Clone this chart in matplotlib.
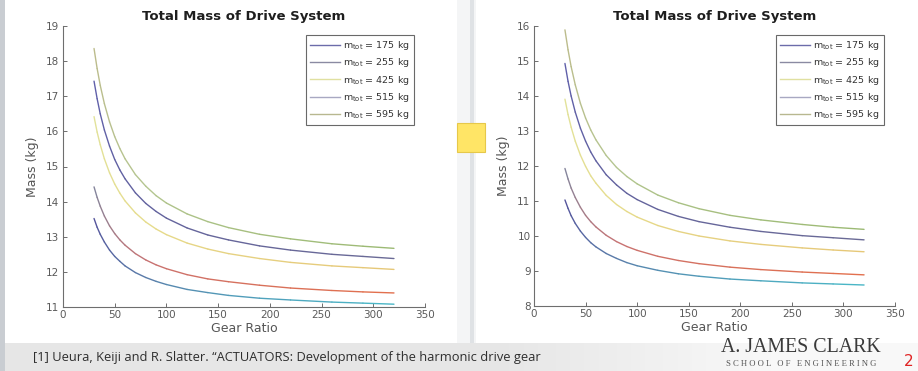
import numpy as np
import matplotlib
matplotlib.use('Agg')
import matplotlib.pyplot as plt
from matplotlib.collections import LineCollection
from matplotlib.lines import Line2D
from matplotlib.patches import Rectangle
from matplotlib.colors import to_rgb

# ---------------- data ----------------
gear_ratio = [30, 33, 36, 40, 45, 50, 55, 60, 70, 80, 90, 100, 120, 140, 160, 190, 220, 260, 290, 320]
mass_labels = ['175', '255', '425', '515', '595']

left_175 = [13.52, 13.27, 13.07, 12.85, 12.62, 12.44, 12.30, 12.17, 11.98, 11.84, 11.73, 11.64, 11.50, 11.41, 11.33, 11.25, 11.20, 11.14, 11.11, 11.08]
left_255 = [14.42, 14.12, 13.87, 13.59, 13.31, 13.09, 12.91, 12.76, 12.52, 12.34, 12.20, 12.09, 11.92, 11.80, 11.72, 11.62, 11.54, 11.47, 11.43, 11.40]
left_425 = [16.42, 15.98, 15.62, 15.22, 14.82, 14.50, 14.24, 14.02, 13.68, 13.42, 13.22, 13.06, 12.82, 12.65, 12.52, 12.38, 12.27, 12.17, 12.12, 12.07]
left_515 = [17.43, 16.93, 16.50, 16.04, 15.58, 15.20, 14.90, 14.65, 14.25, 13.95, 13.72, 13.53, 13.25, 13.05, 12.91, 12.74, 12.62, 12.50, 12.44, 12.38]
left_595 = [18.36, 17.79, 17.31, 16.79, 16.27, 15.85, 15.51, 15.22, 14.77, 14.44, 14.17, 13.96, 13.65, 13.43, 13.26, 13.07, 12.94, 12.80, 12.73, 12.67]

right_175 = [11.03, 10.79, 10.58, 10.36, 10.14, 9.96, 9.81, 9.69, 9.50, 9.36, 9.24, 9.15, 9.02, 8.92, 8.85, 8.77, 8.72, 8.66, 8.63, 8.60]
right_255 = [11.93, 11.63, 11.37, 11.10, 10.82, 10.59, 10.41, 10.26, 10.02, 9.84, 9.70, 9.59, 9.42, 9.30, 9.21, 9.11, 9.04, 8.97, 8.93, 8.89]
right_425 = [13.91, 13.47, 13.11, 12.71, 12.31, 11.99, 11.72, 11.51, 11.16, 10.90, 10.70, 10.54, 10.30, 10.13, 10.00, 9.86, 9.76, 9.66, 9.60, 9.55]
right_515 = [14.93, 14.42, 14.00, 13.54, 13.08, 12.71, 12.40, 12.15, 11.75, 11.46, 11.22, 11.04, 10.76, 10.56, 10.41, 10.25, 10.13, 10.01, 9.95, 9.89]
right_595 = [15.89, 15.32, 14.84, 14.32, 13.79, 13.37, 13.03, 12.75, 12.30, 11.96, 11.70, 11.49, 11.17, 10.95, 10.78, 10.59, 10.46, 10.33, 10.25, 10.19]

x_ticks = [0, 50, 100, 150, 200, 250, 300, 350]
left_y_ticks = [11, 12, 13, 14, 15, 16, 17, 18, 19]
right_y_ticks = [8, 9, 10, 11, 12, 13, 14, 15, 16]

# ---------------- styling ----------------
curve_stops = [
    ['#55559c', '#5a7eaa', '#4ab6c6'],   # 175
    ['#85859c', '#c87272', '#e2704e'],   # 255
    ['#e2e29a', '#e6dc8c', '#e6c878'],   # 425
    ['#6060aa', '#62629e', '#6a6a96'],   # 515
    ['#bcbc8c', '#b4c690', '#9cba74'],   # 595
]
legend_colors = ['#6c6caa', '#8a8aa2', '#e0e0a0', '#a8a8c2', '#b8b890']

W, H = 918, 371
fig = plt.figure(figsize=(W / 100, H / 100), dpi=100)
fig.patch.set_facecolor('white')

def px_rect(x0, y0, x1, y1, color, z=0, ec='none', lw=0):
    fig.patches.append(Rectangle((x0 / W, 1 - y1 / H), (x1 - x0) / W, (y1 - y0) / H,
                                 transform=fig.transFigure, facecolor=color,
                                 edgecolor=ec, linewidth=lw, zorder=z))

# background pieces
px_rect(0, 0, 5, 371, '#c9cdd2', z=0)
px_rect(457, 0, 476, 343, '#f4f5f6', z=0)
px_rect(470, 0, 474, 343, '#dfe2e5', z=0)
# footer strip with gradient
bg = fig.add_axes([0, 0, 1, 28 / H], zorder=0)
grad = np.linspace(0, 1, 256)
gcol = np.ones((1, 256, 3))
g = 0.905 + 0.07 * np.clip((grad - 0.55) / 0.3, 0, 1)
gcol[0, :, 0] = g
gcol[0, :, 1] = g
gcol[0, :, 2] = g
bg.imshow(gcol, aspect='auto', extent=[0, 1, 0, 1])
bg.set_axis_off()


def blend(stops, n):
    stops = [np.array(to_rgb(c)) for c in stops]
    t = np.linspace(0, 1, n)
    out = []
    for v in t:
        if v <= 0.5:
            f = v / 0.5
            out.append(stops[0] * (1 - f) + stops[1] * f)
        else:
            f = (v - 0.5) / 0.5
            out.append(stops[1] * (1 - f) + stops[2] * f)
    return out


def draw_panel(rect, series, yticks):
    ax = fig.add_axes(rect, zorder=2)
    ax.set_facecolor('white')
    x = np.array(gear_ratio, dtype=float)
    for vals, stops in zip(series, curve_stops):
        y = np.array(vals, dtype=float)
        pts = np.array([x, y]).T.reshape(-1, 1, 2)
        segs = np.concatenate([pts[:-1], pts[1:]], axis=1)
        lc = LineCollection(segs, colors=blend(stops, len(segs)), linewidths=1.0,
                            capstyle='round', joinstyle='round')
        ax.add_collection(lc)
    ax.set_xlim(x_ticks[0], x_ticks[-1])
    ax.set_ylim(yticks[0], yticks[-1])
    ax.set_xticks(x_ticks)
    ax.set_yticks(yticks)
    for s in ['top', 'right']:
        ax.spines[s].set_visible(False)
    for s in ['left', 'bottom']:
        ax.spines[s].set_color('#6e6e6e')
        ax.spines[s].set_linewidth(0.8)
    ax.tick_params(direction='in', length=3, width=0.7, colors='#6e6e6e',
                   labelcolor='#5a5a5a', labelsize=7.5, pad=2.5)
    ax.set_title('Total Mass of Drive System', fontsize=9.5, fontweight='bold',
                 color='#1e1e1e', pad=4.5)
    ax.set_xlabel('Gear Ratio', fontsize=9, color='#555555', labelpad=1)
    ax.set_ylabel('Mass (kg)', fontsize=9, color='#555555', labelpad=5)
    handles = [Line2D([0], [0], color=c, lw=1.0) for c in legend_colors]
    texts = [r'm$_{\rm tot}$ = %s kg' % m for m in mass_labels]
    leg = ax.legend(handles, texts, loc='upper right', bbox_to_anchor=(0.97, 0.968),
                    fontsize=6.8, frameon=True, fancybox=False, handlelength=3.2,
                    handletextpad=0.3, borderpad=0.45, labelspacing=0.45,
                    borderaxespad=0.0)
    leg.get_frame().set_edgecolor('#444444')
    leg.get_frame().set_linewidth(0.8)
    for t in leg.get_texts():
        t.set_color('#333333')
    return ax

draw_panel([63 / W, 1 - 307 / H, 362 / W, 281 / H],
           [left_175, left_255, left_425, left_515, left_595], left_y_ticks)
draw_panel([534 / W, 1 - 306 / H, 361 / W, 280 / H],
           [right_175, right_255, right_425, right_515, right_595], right_y_ticks)

# yellow square
px_rect(457, 123, 485, 152, '#ffe566', z=5, ec='#e6c84a', lw=0.8)

# footer texts
fig.text(33 / W, 1 - 358 / H, '[1] Ueura, Keiji and R. Slatter. \u201cACTUATORS: Development of the harmonic drive gear',
         fontsize=9.3, family=['Open Sans', 'DejaVu Sans'], color='#2e2e2e', va='center', ha='left', zorder=6)
fig.text(33 / W, 1 - 378 / H, 'for space applications.\u201d (2004)',
         fontsize=9.3, family=['Open Sans', 'DejaVu Sans'], color='#2e2e2e', va='center', ha='left', zorder=6)
fig.text(801 / W, 1 - 348 / H, 'A. JAMES CLARK', fontsize=14.3, family=['Liberation Serif', 'DejaVu Serif'],
         color='#3a3a3a', va='center', ha='center', zorder=6)
fig.text(801 / W, 1 - 364 / H, 'S C H O O L   O F   E N G I N E E R I N G', fontsize=6.2,
         family=['Liberation Serif', 'DejaVu Serif'],
         color='#555555', va='center', ha='center', zorder=6)
fig.text(904 / W, 1 - 362 / H, '2', fontsize=11, color='#e02424', va='center', ha='left', zorder=6)

fig.savefig('out.png', dpi=100, facecolor=fig.get_facecolor())
